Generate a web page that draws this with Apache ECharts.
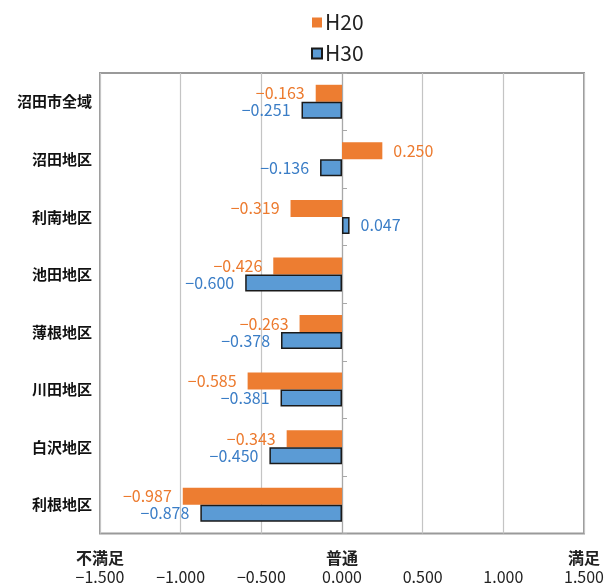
<!DOCTYPE html>
<html>
<head>
<meta charset="utf-8">
<script src="https://cdn.jsdelivr.net/npm/echarts@6/dist/echarts.min.js"></script>
<style>html,body{margin:0;padding:0;background:#fff}#c{width:613px;height:585px}</style>
</head>
<body>
<div id="c"></div>
<script>
const categories = ['沼田市全域','沼田地区','利南地区','池田地区','薄根地区','川田地区','白沢地区','利根地区'];
const h20 = [-0.163, 0.250, -0.319, -0.426, -0.263, -0.585, -0.343, -0.987];
const h30 = [-0.251, -0.136, 0.047, -0.600, -0.378, -0.381, -0.450, -0.878];
const xTicks = [-1.5, -1.0, -0.5, 0, 0.5, 1.0, 1.5];
const xTopLabels = {'-1.5':'不満足','0':'普通','1.5':'満足'};

const FONT = '"Noto Sans CJK JP", "Noto Sans", sans-serif';
function fmt(v){ const s = Math.abs(v).toFixed(3); return v < 0 ? '\u2212' + s : s; }

const chart = echarts.init(document.getElementById('c'));
function mkLabel(color){
  return {
    show: true,
    position: 'left',
    distance: 11,
    color: color,
    fontSize: 16,
    fontFamily: FONT,
    formatter: p => fmt(p.value)
  };
}
function seriesData(arr){
  return arr.map(v => ({value: v, label: v >= 0 ? {position: 'right'} : {position: 'left'}}));
}
chart.setOption({
  animation: false,
  textStyle: {fontFamily: FONT},
  legend: {
    orient: 'vertical',
    left: 306,
    top: 7,
    itemWidth: 10,
    itemHeight: 10,
    itemGap: 10,
    icon: 'rect',
    textStyle: {fontSize: 21, color: '#222', fontFamily: FONT, padding: [0,0,0,-2]},
    data: ['H20','H30']
  },
  grid: {left: 100, right: 29, top: 73, bottom: 51, show: true, borderColor: '#9a9a9a', borderWidth: 2},
  xAxis: {
    type: 'value',
    min: -1.5, max: 1.5, interval: 0.5,
    axisLine: {show: false},
    axisTick: {show: false},
    splitLine: {show: true, lineStyle: {color: '#c4c4c4', width: 1.2}},
    axisLabel: {
      margin: 14,
      formatter: v => {
        const k = String(Math.round(v*10)/10);
        const top = xTopLabels[k] || ' ';
        return '{t|' + top + '}\n{n|' + fmt(v) + '}';
      },
      rich: {
        t: {fontSize: 16, fontWeight: 'bold', color: '#222', lineHeight: 20, fontFamily: FONT},
        n: {fontSize: 16, color: '#222', lineHeight: 19, fontFamily: FONT}
      }
    }
  },
  yAxis: [{
    type: 'category',
    data: categories,
    inverse: true,
    axisLine: {show: false, onZero: false},
    axisTick: {show: false},
    axisLabel: {fontSize: 15, fontWeight: 'bold', color: '#111', margin: 8, fontFamily: FONT}
  }, {
    type: 'category',
    data: categories,
    inverse: true,
    position: 'left',
    axisLine: {show: true, onZero: true, lineStyle: {color: '#a8a8a8', width: 1.2}},
    axisTick: {show: true, inside: true, length: 5, lineStyle: {color: '#a8a8a8'}},
    axisLabel: {show: false}
  }],
  series: [{
    name: 'H20',
    type: 'bar',
    yAxisIndex: 0,
    data: seriesData(h20),
    barWidth: 17,
    barGap: '0%',
    itemStyle: {color: '#ED7D31'},
    label: mkLabel('#EC7A2E')
  }, {
    name: 'H30',
    type: 'bar',
    yAxisIndex: 0,
    data: seriesData(h30),
    barWidth: 17,
    barGap: '0%',
    itemStyle: {color: '#5B9BD5', borderColor: '#1a1a1a', borderWidth: 1.5},
    label: mkLabel('#3A7DC6')
  }]
});
</script>
</body>
</html>
